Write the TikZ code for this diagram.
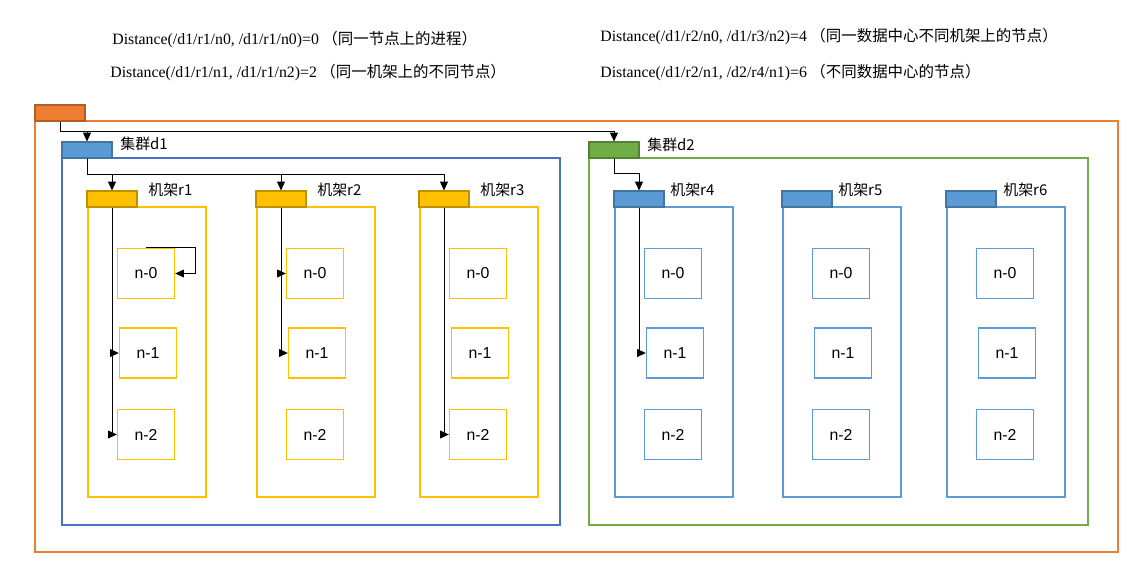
\documentclass[tikz,border=0pt]{standalone}
\usepackage{fontspec}
\setmainfont{Liberation Serif}
\setsansfont{Liberation Sans}
\newfontfamily\cjk{Noto Sans CJK SC}
\usetikzlibrary{arrows.meta}

\definecolor{orangeA}{HTML}{ED7D31}
\definecolor{blueA}{HTML}{5B9BD5}
\definecolor{blueB}{HTML}{4472C4}
\definecolor{greenA}{HTML}{70AD47}
\definecolor{goldA}{HTML}{FFC000}

\tikzset{
  hdr/.style={draw=#1!75!black, fill=#1, minimum width=1cm, minimum height=0.32cm, inner sep=0pt, line width=0.6pt},
  nbox/.style={draw=#1, line width=0.8pt, minimum width=1.14cm, minimum height=1cm, inner sep=0pt, font=\sffamily\fontsize{9}{10}\selectfont},
  lbl/.style={anchor=west, inner sep=0pt, font=\cjk\fontsize{8.5}{10}\selectfont},
  dist/.style={anchor=west, inner sep=0pt, font=\fontsize{9}{11}\selectfont},
  conn/.style={-{Triangle[length=5pt,width=4.5pt]}, line width=0.5pt}
}

\newcommand{\zh}[1]{\hspace{2pt}{\cjk\fontsize{8.8}{10}\selectfont #1}}

\begin{document}
\begin{tikzpicture}[x=0.02cm, y=-0.02cm]
\useasboundingbox (0,0) rectangle (1141,568);

\node[dist] (dist1) at (112,40) {Distance(/d1/r1/n0, /d1/r1/n0)=0\zh{（同一节点上的进程）}};
\node[dist] (dist2) at (110,73) {Distance(/d1/r1/n1, /d1/r1/n2)=2\zh{（同一机架上的不同节点）}};
\node[dist] (dist3) at (600,37) {Distance(/d1/r2/n0, /d1/r3/n2)=4\zh{（同一数据中心不同机架上的节点）}};
\node[dist] (dist4) at (600,73) {Distance(/d1/r2/n1, /d2/r4/n1)=6\zh{（不同数据中心的节点）}};

\draw[orangeA, line width=0.8pt] (35,121) rectangle (1118,552);
\draw[blueB, line width=0.8pt] (62,158) rectangle (560,525);
\draw[greenA, line width=0.8pt] (589,158) rectangle (1088,525);

\node[hdr=orangeA] (top) at (60,113) {};
\node[hdr=blueA] (d1) at (87,150) {};
\node[hdr=greenA] (d2) at (614,150) {};
\node[lbl] (ld1) at (120,144) {集群d1};
\node[lbl] (ld2) at (647,145) {集群d2};

\foreach \r/\x/\lx/\c in {1/88/60/goldA, 2/257/60/goldA, 3/420/60/goldA, 4/615/55/blueA, 5/783/55/blueA, 6/947/56/blueA}{
  \draw[\c, line width=0.8pt] (\x,207) rectangle (\x+118,497);
  \node[hdr=\c] (r\r) at (\x+24,199) {};
  \node[lbl] (lr\r) at (\x+\lx,190) {机架r\r};
  \node[nbox=\c] (r\r-n0) at (\x+58,273.5) {n-0};
  \node[nbox=\c] (r\r-n1) at (\x+60,353) {n-1};
  \node[nbox=\c] (r\r-n2) at (\x+58,434.5) {n-2};
}

\draw[conn] (top.south) -- ++(0,10) -| (d1.north);
\draw[conn] (top.south) -- ++(0,10) -| (d2.north);
\foreach \r in {1,2,3}
  \draw[conn] (d1.south) -- ++(0,16) -| (r\r.north);
\draw[conn] (d2.south) -- ++(0,15) -| (r4.north);

\foreach \a/\b in {1/n1, 1/n2, 2/n0, 2/n1, 3/n2, 4/n1}
  \draw[conn] (r\a.south) |- (r\a-\b.west);
\draw[conn] (r1-n0.north) -| ([xshift=0.4cm]r1-n0.east) -- (r1-n0.east);

\end{tikzpicture}
\end{document}
